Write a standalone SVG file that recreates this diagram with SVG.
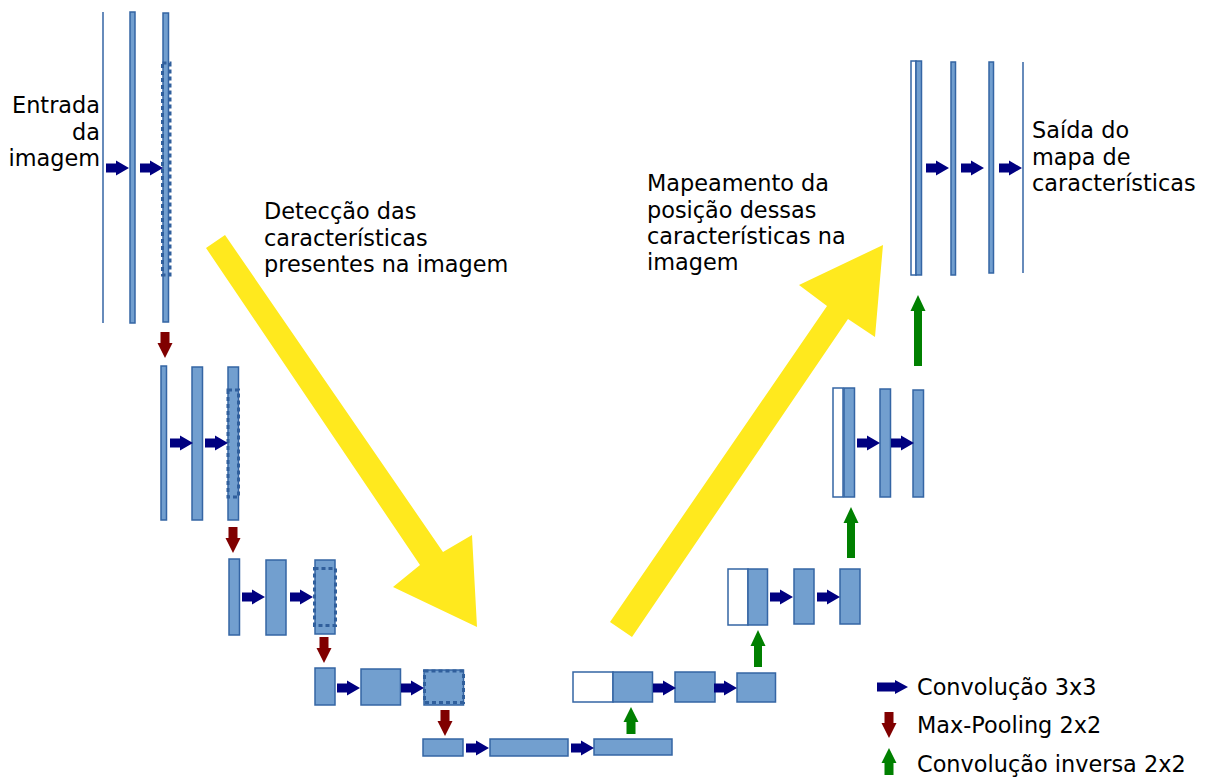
<svg xmlns="http://www.w3.org/2000/svg" width="1206" height="778" viewBox="0 0 1206 778">
  <defs>
    <style>
      .b { fill: #729fcf; stroke: #3465a4; stroke-width: 1.5; }
      .w { fill: #ffffff; stroke: #3465a4; stroke-width: 1.5; }
      .d { fill: none; stroke: #305f9c; stroke-width: 3; stroke-dasharray: 4 3; }
      .ln { stroke: #3465a4; stroke-width: 1.5; fill: none; }
      .conv { fill: #000080; }
      .pool { fill: #800000; }
      .up { fill: #008000; }
      .flow { fill: #ffe91e; }
      text { font-family: "DejaVu Sans", "Liberation Sans", sans-serif; font-size: 22.4px; fill: #000000; }
    </style>
    <!-- 3x3 convolution arrow, origin at tail centre, pointing right -->
    <path id="c3" d="M0,-4.5 H10 V-7.5 L23,0 L10,7.5 V4.5 H0 Z"/>
    <!-- 2x2 max-pooling arrow, origin at top centre, pointing down -->
    <path id="mp" d="M-4.5,0 H4.5 V11 H7.5 L0,26 L-7.5,11 H-4.5 Z"/>
  </defs>

  <rect width="1206" height="778" fill="#ffffff"/>

  <!-- big yellow flow arrows -->
  <g id="flow-down">
    <path class="flow" d="M206,248 L225,235 L443,552 L472,535 L477,627 L393,587 L420,565 Z"/>
  </g>
  <g id="flow-up">
    <path class="flow" d="M610,622 L827,306 L799,285 L883,245 L875,337 L848,319 L632,637 Z"/>
  </g>

  <!-- encoder, level 1 -->
  <g id="enc1">
    <line class="ln" x1="103" y1="12" x2="103" y2="323"/>
    <rect class="b" x="130" y="12" width="5" height="311"/>
    <rect class="b" x="163" y="13" width="5.5" height="309"/>
    <rect class="d" x="162.5" y="63" width="7.5" height="212"/>
  </g>
  <!-- encoder, level 2 -->
  <g id="enc2">
    <rect class="b" x="161" y="366" width="5.5" height="154"/>
    <rect class="b" x="192" y="367" width="10.5" height="153"/>
    <rect class="b" x="228" y="367" width="10.5" height="153"/>
    <rect class="d" x="228" y="390" width="10.5" height="107"/>
  </g>
  <!-- encoder, level 3 -->
  <g id="enc3">
    <rect class="b" x="229" y="559" width="10.5" height="76"/>
    <rect class="b" x="266" y="560" width="20" height="75"/>
    <rect class="b" x="315" y="560" width="20" height="74"/>
    <rect class="d" x="314.5" y="568.5" width="21" height="57"/>
  </g>
  <!-- encoder, level 4 -->
  <g id="enc4">
    <rect class="b" x="315" y="668" width="20" height="37"/>
    <rect class="b" x="361" y="669" width="39.5" height="36"/>
    <rect class="b" x="424" y="670" width="39.5" height="35"/>
    <rect class="d" x="424.5" y="671" width="39" height="31.5"/>
  </g>
  <!-- bottleneck -->
  <g id="bottom">
    <rect class="b" x="423" y="739" width="40" height="17"/>
    <rect class="b" x="490" y="739" width="78" height="17"/>
    <rect class="b" x="594" y="739" width="78" height="16"/>
  </g>
  <!-- decoder, level 4 -->
  <g id="dec4">
    <rect class="w" x="573" y="672" width="40" height="30"/>
    <rect class="b" x="613" y="672" width="39.5" height="30"/>
    <rect class="b" x="675" y="672" width="40" height="30"/>
    <rect class="b" x="737" y="673" width="38.5" height="29"/>
  </g>
  <!-- decoder, level 3 -->
  <g id="dec3">
    <rect class="w" x="728" y="569" width="20" height="56"/>
    <rect class="b" x="748" y="569" width="19.5" height="56"/>
    <rect class="b" x="794" y="569" width="20" height="55"/>
    <rect class="b" x="840" y="569" width="20" height="55"/>
  </g>
  <!-- decoder, level 2 -->
  <g id="dec2">
    <rect class="w" x="833" y="388" width="10" height="109"/>
    <rect class="b" x="844" y="388" width="10.5" height="109"/>
    <rect class="b" x="880" y="389" width="10.5" height="108"/>
    <rect class="b" x="913" y="390" width="10.5" height="107"/>
  </g>
  <!-- decoder, level 1 -->
  <g id="dec1">
    <rect class="w" x="911" y="61" width="5" height="214"/>
    <rect class="b" x="916" y="61" width="5.5" height="214"/>
    <rect class="b" x="951" y="62" width="4.5" height="213"/>
    <rect class="b" x="989" y="62" width="4.5" height="211"/>
    <line class="ln" x1="1023" y1="62" x2="1023" y2="273"/>
  </g>

  <!-- connectors -->
  <g id="connectors">
    <!-- 3x3 convolutions -->
    <use href="#c3" class="conv" x="106" y="168"/>
    <use href="#c3" class="conv" x="140" y="168"/>
    <use href="#c3" class="conv" x="170" y="443"/>
    <use href="#c3" class="conv" x="205" y="443"/>
    <use href="#c3" class="conv" x="242" y="597"/>
    <use href="#c3" class="conv" x="290" y="597"/>
    <use href="#c3" class="conv" x="337" y="688"/>
    <use href="#c3" class="conv" x="401" y="688"/>
    <use href="#c3" class="conv" x="466" y="748"/>
    <use href="#c3" class="conv" x="571" y="748"/>
    <use href="#c3" class="conv" x="653" y="688"/>
    <use href="#c3" class="conv" x="714" y="688"/>
    <use href="#c3" class="conv" x="770" y="597"/>
    <use href="#c3" class="conv" x="817" y="597"/>
    <use href="#c3" class="conv" x="857" y="443"/>
    <use href="#c3" class="conv" x="891" y="443"/>
    <use href="#c3" class="conv" x="926" y="168"/>
    <use href="#c3" class="conv" x="961" y="168"/>
    <use href="#c3" class="conv" x="999" y="168"/>
    <!-- 2x2 max-pooling -->
    <use href="#mp" class="pool" x="165" y="332"/>
    <use href="#mp" class="pool" x="233" y="527"/>
    <use href="#mp" class="pool" x="324" y="637"/>
    <use href="#mp" class="pool" x="445" y="710"/>
    <!-- 2x2 transposed convolutions -->
    <path class="up" d="M626.5,734 V722 H623.5 L631,707 L638.5,722 H635.5 V734 Z"/>
    <path class="up" d="M754,667 V646 H750.5 L758,630 L765.5,646 H762 V667 Z"/>
    <path class="up" d="M847,558 V523 H843.5 L851,507 L858.5,523 H855 V558 Z"/>
    <path class="up" d="M914,366 V311 H910.5 L918,295 L925.5,311 H922 V366 Z"/>
  </g>

  <!-- labels -->
  <g id="label-input">
    <text text-anchor="end" x="100" y="113">Entrada</text>
    <text text-anchor="end" x="100" y="140">da</text>
    <text text-anchor="end" x="100" y="166">imagem</text>
  </g>
  <g id="label-encoder">
    <text x="264" y="219">Detecção das</text>
    <text x="264" y="246">características</text>
    <text x="264" y="272">presentes na imagem</text>
  </g>
  <g id="label-decoder">
    <text x="647" y="191">Mapeamento da</text>
    <text x="647" y="218">posição dessas</text>
    <text x="647" y="244">características na</text>
    <text x="647" y="270">imagem</text>
  </g>
  <g id="label-output">
    <text x="1032" y="138">Saída do</text>
    <text x="1032" y="165">mapa de</text>
    <text x="1032" y="191">características</text>
  </g>

  <!-- legend -->
  <g id="legend">
    <path class="conv" d="M877,682.5 H895 V680 L908,687 L895,694 V691.5 H877 Z"/>
    <text x="917" y="695">Convolução 3x3</text>
    <use href="#mp" class="pool" x="889" y="712"/>
    <text x="917" y="733">Max-Pooling 2x2</text>
    <path class="up" d="M884.5,775 V763 H881.5 L889,748 L896.5,763 H893.5 V775 Z"/>
    <text x="917" y="772">Convolução inversa 2x2</text>
  </g>
</svg>
